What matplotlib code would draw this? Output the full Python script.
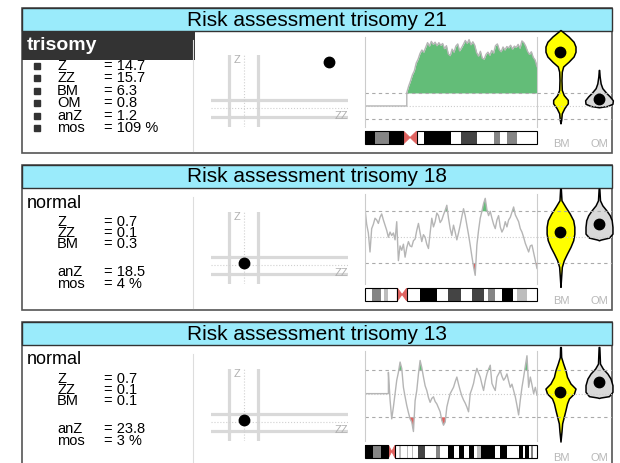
# three stacked risk assessment panels (trisomy 21 / 18 / 13)
import numpy as np
import matplotlib
matplotlib.use('Agg')
import matplotlib.pyplot as plt
from matplotlib.patches import Rectangle, Polygon

plt.rcParams['font.family'] = ['Liberation Sans', 'DejaVu Sans']

### data ###
titles = ["Risk assessment trisomy 21", "Risk assessment trisomy 18", "Risk assessment trisomy 13"]
calls = ["trisomy", "normal", "normal"]
z_vals = [14.7, 0.7, 0.7]
zz_vals = [15.7, 0.1, 0.1]
bm_vals = [6.3, 0.3, 0.1]
om_vals = [0.8, None, None]
anz_vals = [1.2, 18.5, 23.8]
mos_vals = [109, 4, 3]

threshold = 3.0      # dashed lines in the chromosome / violin panels
zz_threshold = 2.7   # thick lines in the Z / ZZ panel

# z-score per bin along the chromosome, bins start at arm_start (acrocentric p-arm has none)
arm_start = [0.243, 0.0, 0.136]
chr21_z = [3.1, 4.6, 5.8, 7.2, 8.1, 9.9, 10.8, 12.1, 12.9, 12.4, 13.5, 14.6, 13.8, 14.9,
           14.2, 14.7, 13.9, 14.6, 14.0, 14.4, 13.2, 13.9, 12.0, 11.6, 13.1, 12.4, 13.8,
           14.3, 12.7, 13.4, 14.2, 15.1, 14.4, 15.3, 14.1, 14.8, 14.0, 12.3, 11.5, 12.6,
           11.0, 10.8, 11.9, 12.4, 11.7, 12.8, 12.2, 13.9, 14.3, 13.0, 12.5, 13.6, 12.9,
           13.7, 13.4, 14.0, 13.1, 13.8, 13.5, 14.2, 13.3, 15.0, 14.6, 13.8, 12.6, 11.9,
           12.5, 11.2, 10.6, 9.1]
chr18_z = [3.3, 1.5, 0.5, -1.7, 1.0, 1.5, 2.2, 2.0, 1.6, 2.3, 2.7, 2.0, 1.4, 0.8, 0.0,
           0.6, 0.2, 0.5, -0.3, 1.8, -2.7, -1.0, -1.5, -0.8, -2.3, -1.2, -0.5, -1.0, -1.1,
           -0.4, -0.2, 0.8, 1.6, 0.5, -0.5, 0.3, 0.0, -0.8, -1.3, 0.5, 2.2, 1.2, 1.8, 2.8,
           2.5, 1.7, 2.0, 2.6, 3.1, 3.7, 2.2, 1.0, 0.2, 1.4, 0.6, -0.3, 0.5, 1.4, 2.4, 3.3,
           2.5, 1.4, 0.3, -0.9, -2.2, -3.4, -4.4, -0.9, 0.8, 2.2, 3.0, 3.9, 4.5, 3.2, 2.5,
           3.0, 2.2, 1.5, 1.0, 2.0, 2.5, 1.2, 0.6, 1.0, 1.8, 1.2, 2.0, 2.3, 2.9, 3.5, 2.6,
           2.2, 1.8, 1.0, 0.6, 0.0, -0.7, -1.2, -1.7, -1.0, -0.9, -1.8, -2.7, -3.6]
chr13_z = [2.7, -0.8, -3.2, -1.7, 0.0, 1.7, 2.7, 4.0, 3.2, 0.8, -0.4, -1.5, -2.4, -3.2,
           -3.6, -4.8, -0.9, 0.4, 2.5, 4.2, 3.3, 2.1, 1.0, 0.4, -0.5, -1.1, -0.6, -0.4,
           -1.0, -1.3, -1.8, -2.3, -3.4, -4.0, -3.6, -1.7, -0.8, 0.0, 0.4, 0.8, 1.5, 2.1,
           1.2, 0.4, -0.3, -0.8, -1.2, -1.7, -2.3, 0.0, 0.6, 1.3, 2.4, 3.2, 2.6, 2.1, 1.2,
           0.4, 1.6, 2.5, 3.1, 3.6, 1.3, 0.8, 0.4, 2.1, 2.5, 2.9, 2.2, 1.7, 2.0, 2.5, 1.6,
           0.8, 1.2, 0.4, -0.4, -1.5, -2.7, -0.8, 0.8, 2.1, 3.5, 4.8, 0.8, 2.1, 1.1, 0.0,
           0.8, -0.2]
chrom_z = [chr21_z, chr18_z, chr13_z]
chrom_ylim = [(-4.85, 15.9), (-5.4, 5.0), (-6.0, 5.4)]

# ideogram: stained bands (start, end, stain) and centromere span
chr21_bands = [(0.0, 0.058, 'k'), (0.058, 0.142, 'g'), (0.142, 0.223, 'k'), (0.344, 0.499, 'k'),
               (0.559, 0.654, 'd'), (0.748, 0.786, 'g'), (0.825, 0.883, 'g')]
chr18_bands = [(0.039, 0.091, 'g'), (0.111, 0.136, 'l'), (0.320, 0.417, 'k'), (0.480, 0.557, 'd'),
               (0.621, 0.689, 'd'), (0.718, 0.757, 'g'), (0.796, 0.860, 'k'), (0.883, 0.942, 'l')]
chr13_bands = [(0.0, 0.045, 'k'), (0.045, 0.091, 'g'), (0.091, 0.136, 'k'), (0.200, 0.208, 'l'),
               (0.243, 0.248, 'l'), (0.272, 0.278, 'l'), (0.311, 0.350, 'd'), (0.414, 0.437, 'g'),
               (0.480, 0.515, 'k'), (0.544, 0.577, 'k'), (0.602, 0.635, 'k'), (0.654, 0.674, 'l'),
               (0.674, 0.757, 'k'), (0.786, 0.825, 'k'), (0.893, 0.918, 'k'), (0.932, 0.951, 'k'),
               (0.965, 0.977, 'g')]
chrom_bands = [chr21_bands, chr18_bands, chr13_bands]
centromeres = [(0.223, 0.301), (0.188, 0.243), (0.136, 0.175)]
stains = {'k': '#000000', 'g': '#858585', 'd': '#444444', 'l': '#bdbdbd'}

# violin outlines: value, half width; plus the marked value
bm_prof_y = [[17.5, 17.2, 16.0, 14.8, 13.7, 12.5, 11.4, 10.2, 9.1, 7.9, 6.0, 3.7, 2.5, 1.4, 0.6, -0.5, -1.7, -3.2, -4.0],
             [5.6, 4.27, 3.5, 2.74, 1.97, 1.2, 0.42, -0.35, -1.11, -1.88, -2.65, -3.42, -4.57, -5.73],
             [5.9, 4.64, 3.8, 2.96, 2.12, 1.28, 0.64, 0.02, -0.61, -1.24, -2.08, -2.92, -3.76, -4.81, -6.07]]
bm_prof_w = [[0, .044, .21, .34, .39, .39, .34, .21, .07, .034, .026, .034, .086, .19, .19, .10, .034, .018, 0],
             [.009, .026, .13, .24, .33, .36, .36, .33, .26, .17, .087, .035, .017, 0],
             [.009, .017, .07, .13, .17, .26, .39, .35, .22, .17, .13, .087, .043, .026, 0]]
om_prof_y = [[8.3, 6.8, 5.2, 4.1, 3.0, 2.2, 1.3, 0.5, 0.0, -0.3],
             [5.6, 4.27, 3.69, 3.12, 2.54, 1.97, 1.2, 0.42, -0.04, -0.27, -0.35],
             [5.9, 3.8, 3.17, 2.54, 1.91, 1.07, 0.23, -0.32, -0.49, -0.55]]
om_prof_w = [[.004, .017, .043, .087, .19, .28, .36, .35, .22, 0],
             [.009, .026, .087, .19, .28, .33, .35, .35, .26, .043, 0],
             [.009, .026, .10, .22, .30, .35, .35, .26, .043, 0]]
bm_marks = [12.5, 0.6, 0.15]
om_marks = [1.55, 1.58, 1.49]

### layout (pixels) ###
W, H = 620, 463
panel_tops = [8, 165, 322]
GREEN = '#63bd78'
RED = '#e0625f'
CYAN = '#9aebfb'


def px_axes(fig, x0, y0, x1, y1):
    return fig.add_axes([x0 / W, 1 - y1 / H, (x1 - x0) / W, (y1 - y0) / H])


fig = plt.figure(figsize=(W / 100, H / 100), dpi=100)
bg = fig.add_axes([0, 0, 1, 1])
bg.set_xlim(0, W)
bg.set_ylim(H, 0)
bg.axis('off')

for i, t in enumerate(panel_tops):
    # frame, header and left text block
    bg.add_patch(Rectangle((22, t), 590, 145, fc='white', ec='#555555', lw=1.2))
    bg.add_patch(Rectangle((22, t), 590, 23, fc=CYAN, ec='#333333', lw=1.0))
    bg.text(317, t + 12, titles[i], ha='center', va='center', fontsize=15)
    bg.plot([193, 193], [t + 32, t + 143], color='#dddddd', lw=0.8)

    if calls[i] == "trisomy":
        bg.add_patch(Rectangle((22, t + 23), 173, 29, fc='#333333', ec='none'))
        bg.text(27, t + 37, calls[i], color='white', fontweight='bold', ha='left', va='center', fontsize=14)
        rows = [("Z", "= %.1f" % z_vals[i]), ("ZZ", "= %.1f" % zz_vals[i]), ("BM", "= %.1f" % bm_vals[i]),
                ("OM", "= %.1f" % om_vals[i]), ("anZ", "= %.1f" % anz_vals[i]), ("mos", "= %d %%" % mos_vals[i])]
        ys = [t + 58 + 12.4 * k for k in range(6)]
        for y in ys:
            bg.plot(37, y, 's', ms=5, color='#333333')
    else:
        bg.text(27, t + 38, calls[i], ha='left', va='center', fontsize=13)
        rows = [("Z", "= %.1f" % z_vals[i]), ("ZZ", "= %.1f" % zz_vals[i]), ("BM", "= %.1f" % bm_vals[i]),
                ("anZ", "= %.1f" % anz_vals[i]), ("mos", "= %d %%" % mos_vals[i])]
        ys = [t + 57, t + 68, t + 79, t + 107, t + 119]
    for (lab, val), y in zip(rows, ys):
        bg.text(57, y, lab, ha='left', va='center', fontsize=10.5)
        bg.text(104, y, val, ha='left', va='center', fontsize=10.5)

    # Z vs ZZ panel
    ax_s = px_axes(fig, 211, t + 47, 348, t + 119)
    ax_s.set_xlim(-6.1, 19.3)
    ax_s.set_ylim(-6.0, 16.8)
    ax_s.axis('off')
    for v in (-zz_threshold, zz_threshold):
        ax_s.axvline(v, color='#d9d9d9', lw=2.3)
        ax_s.axhline(v, color='#d9d9d9', lw=2.3)
    ax_s.axvline(0, color='#d0d0d0', lw=0.8, ls=':')
    ax_s.axhline(0, color='#d0d0d0', lw=0.8, ls=':')
    ax_s.text(-1.3, 15.2, "Z", color='#b0b0b0', fontsize=8, ha='center', va='center')
    ax_s.text(18.0, -2.5, "ZZ", color='#b0b0b0', fontsize=8, ha='center', va='center')
    ax_s.plot(zz_vals[i], z_vals[i], 'o', color='black', ms=7.5, clip_on=False)

    # chromosome z-score track
    ax_c = px_axes(fig, 365, t + 29, 537, t + 119)
    ax_c.set_facecolor('none')
    ax_c.set_xlim(0, 1)
    ax_c.set_ylim(*chrom_ylim[i])
    ax_c.set_xticks([])
    ax_c.set_yticks([])
    for side in ('top', 'bottom'):
        ax_c.spines[side].set_visible(False)
    for side in ('left', 'right'):
        ax_c.spines[side].set_color('#cccccc')
        ax_c.spines[side].set_linewidth(0.8)
    ax_c.axhline(threshold, color='#aaaaaa', lw=0.8, ls=(0, (3, 3)))
    ax_c.axhline(-threshold, color='#aaaaaa', lw=0.8, ls=(0, (3, 3)))
    ax_c.axhline(0, color='#cccccc', lw=0.8, ls=':')
    vals = np.array(chrom_z[i])
    pos = np.linspace(arm_start[i], 1.0, len(vals))
    ax_c.fill_between(pos, threshold, vals, where=vals > threshold, interpolate=True, color=GREEN, lw=0)
    ax_c.fill_between(pos, -threshold, vals, where=vals < -threshold, interpolate=True, color=RED, lw=0)
    if arm_start[i] > 0:
        pos = np.concatenate([[0, arm_start[i]], pos])
        vals = np.concatenate([[0, 0], vals])
    ax_c.plot(pos, vals, color='#b5b5b5', lw=1.0)

    # ideogram
    ax_i = px_axes(fig, 365, t + 123, 537, t + 136)
    ax_i.set_xlim(0, 1)
    ax_i.set_ylim(0, 1)
    ax_i.axis('off')
    for b0, b1, s in chrom_bands[i]:
        ax_i.add_patch(Rectangle((b0, 0), b1 - b0, 1, fc=stains[s], ec='none'))
    c0, c1 = centromeres[i]
    cm = (c0 + c1) / 2
    ax_i.add_patch(Polygon([(c0, 0), (cm, 0.5), (c1, 0), (c1, 1), (cm, 0.5), (c0, 1)],
                           closed=True, fc=RED, ec=RED, lw=0.6))
    ax_i.add_patch(Rectangle((0, 0), c0, 1, fc='none', ec='black', lw=0.8, clip_on=False))
    ax_i.add_patch(Rectangle((c1, 0), 1 - c1, 1, fc='none', ec='black', lw=0.8, clip_on=False))

    # BM / OM violins
    ax_v = px_axes(fig, 537, t + 29, 612, t + 119)
    ax_v.set_facecolor('none')
    ax_v.set_xlim(0.39, 2.338)
    ax_v.set_ylim(*chrom_ylim[i])
    ax_v.axis('off')
    ax_v.axhline(threshold, color='#aaaaaa', lw=0.8, ls=(0, (3, 3)))
    ax_v.axhline(-threshold, color='#aaaaaa', lw=0.8, ls=(0, (3, 3)))
    ax_v.axhline(0, color='#cccccc', lw=0.8, ls=':')
    for xc, py, pw, mark, fc in ((1, bm_prof_y[i], bm_prof_w[i], bm_marks[i], '#ffff00'),
                                 (2, om_prof_y[i], om_prof_w[i], om_marks[i], '#d9d9d9')):
        py = np.array(py)
        pw = np.array(pw)
        ax_v.fill_betweenx(py, xc - pw, xc + pw, facecolor=fc, edgecolor='black', lw=1.1, clip_on=False)
        ax_v.plot(xc, mark, 'o', color='black', ms=7.5, clip_on=False)
    bg.text(561, t + 136, "BM", color='#b8b8b8', fontsize=8, ha='center', va='center')
    bg.text(599, t + 136, "OM", color='#b8b8b8', fontsize=8, ha='center', va='center')

fig.savefig('out.png', dpi=100)
